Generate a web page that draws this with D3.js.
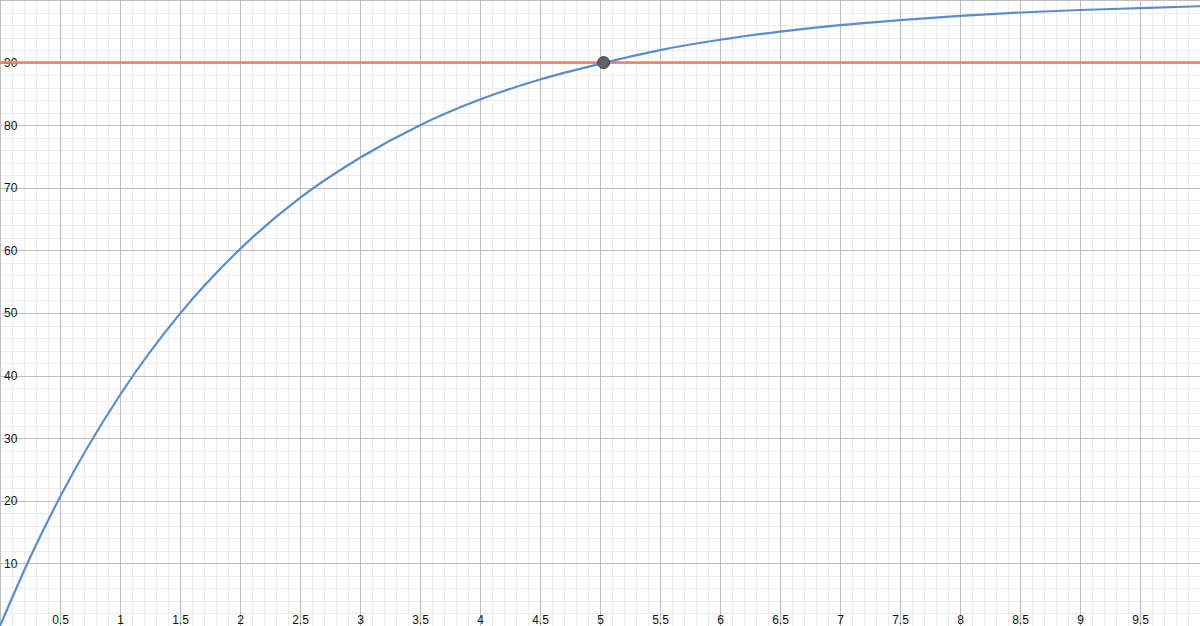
<!DOCTYPE html>
<html>
<head>
<meta charset="utf-8">
<script src="https://cdn.jsdelivr.net/npm/d3@7"></script>
<style>
  html, body { margin: 0; padding: 0; background: #fff; }
  svg { display: block; }
  .tick text { font-family: "Liberation Sans", Arial, sans-serif; font-size: 12px; fill: #111; }
</style>
</head>
<body>
<div id="d3"></div>
<script>
// values
const xValues = [0, 0.25, 0.5, 1, 1.5, 2, 2.5, 3, 3.5, 4, 4.5, 5, 5.5, 6, 6.5, 7, 7.5, 8, 8.5, 9, 9.5, 10];
const yValues = [0, 10.9, 20.6, 36.9, 49.9, 60.2, 68.4, 74.8, 80.0, 84.1, 87.3, 89.8, 92.0, 93.65, 94.95, 96.0, 96.8, 97.45, 98.0, 98.4, 98.7, 99.0];
const targetValue = 90;
const markerPoint = [5.03, 90];
const xTickLabels = [0.5, 1, 1.5, 2, 2.5, 3, 3.5, 4, 4.5, 5, 5.5, 6, 6.5, 7, 7.5, 8, 8.5, 9, 9.5];
const yTickLabels = [10, 20, 30, 40, 50, 60, 70, 80, 90];

function renderChart() {
  const width = 1200;
  const height = 626;

  const svg = d3
    .select("#d3")
    .append("svg")
    .attr("width", width)
    .attr("height", height);

  const x = d3.scaleLinear().domain([0, 10]).range([0, width]);
  const y = d3.scaleLinear().domain([0, 100]).range([626, 0]);

  // minor grid
  const minor = svg.append("g").attr("stroke", "#ebebeb").attr("stroke-width", 1);
  minor
    .selectAll("line.vx")
    .data(x.ticks(100))
    .enter()
    .append("line")
    .attr("x1", (d) => Math.round(x(d)) + 0.5)
    .attr("x2", (d) => Math.round(x(d)) + 0.5)
    .attr("y1", 0)
    .attr("y2", height);
  minor
    .selectAll("line.hy")
    .data(y.ticks(50))
    .enter()
    .append("line")
    .attr("y1", (d) => Math.round(y(d)) + 0.5)
    .attr("y2", (d) => Math.round(y(d)) + 0.5)
    .attr("x1", 0)
    .attr("x2", width);

  // major grid
  const major = svg.append("g").attr("stroke", "#bdbdbd").attr("stroke-width", 1);
  major
    .selectAll("line.vx")
    .data(x.ticks(20))
    .enter()
    .append("line")
    .attr("x1", (d) => Math.round(x(d)) + 0.5)
    .attr("x2", (d) => Math.round(x(d)) + 0.5)
    .attr("y1", 0)
    .attr("y2", height);
  major
    .selectAll("line.hy")
    .data(y.ticks(10))
    .enter()
    .append("line")
    .attr("y1", (d) => Math.round(y(d)) + 0.5)
    .attr("y2", (d) => Math.round(y(d)) + 0.5)
    .attr("x1", 0)
    .attr("x2", width);

  // tick labels
  svg
    .append("g")
    .attr("transform", "translate(0,612)")
    .call(d3.axisBottom(x).tickValues(xTickLabels).tickSize(0).tickFormat(d3.format("")))
    .call((g) => g.select(".domain").remove());

  svg
    .append("g")
    .attr("transform", "translate(4,0)")
    .call(d3.axisRight(y).tickValues(yTickLabels).tickSize(0).tickPadding(0))
    .call((g) => g.select(".domain").remove());

  // target line
  svg
    .append("line")
    .attr("x1", 0)
    .attr("x2", width)
    .attr("y1", y(targetValue))
    .attr("y2", y(targetValue))
    .attr("stroke", "#e8855e")
    .attr("stroke-width", 2.5);

  // curve
  const line = d3
    .line()
    .x((d) => x(d[0]))
    .y((d) => y(d[1]))
    .curve(d3.curveMonotoneX);

  svg
    .append("path")
    .datum(xValues.map((v, i) => [v, yValues[i]]))
    .attr("fill", "none")
    .attr("stroke", "#5a8ccb")
    .attr("stroke-width", 2.2)
    .attr("d", line);

  // intersection point
  svg
    .append("circle")
    .attr("cx", x(markerPoint[0]))
    .attr("cy", y(markerPoint[1]))
    .attr("r", 6)
    .attr("fill", "#636366")
    .attr("stroke", "#3a3a3c")
    .attr("stroke-width", 1);
}

renderChart();
</script>
</body>
</html>
